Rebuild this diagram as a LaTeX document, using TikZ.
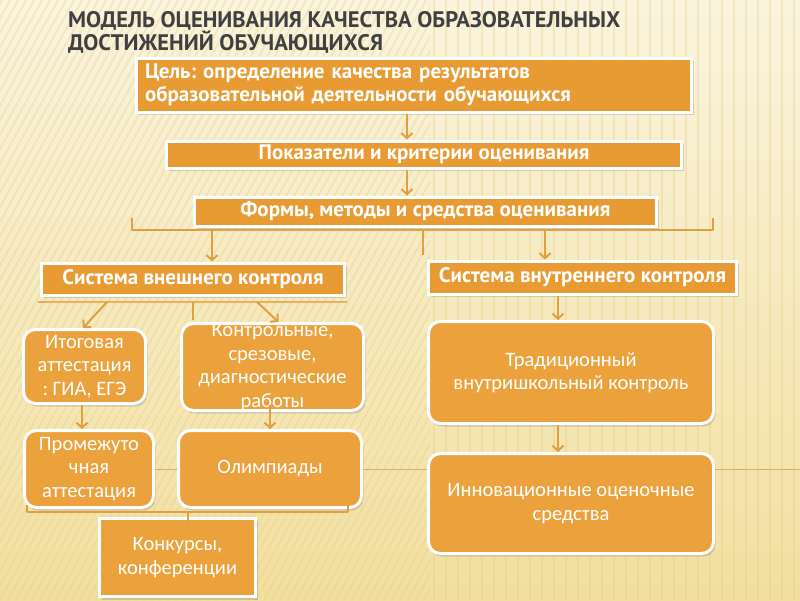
\documentclass[tikz,border=0pt]{standalone}
\usepackage{fontspec}
\setmainfont{Carlito}
\newfontfamily\hfont{PT Sans}
\usetikzlibrary{arrows.meta,shadows,calc}
\pgfdeclarelayer{bg}
\pgfdeclarelayer{back}
\pgfsetlayers{bg,back,main}
\definecolor{boxor}{HTML}{E89B33}
\definecolor{rndor}{HTML}{EBA23C}
\definecolor{arrc}{HTML}{DFA043}
\definecolor{titlec}{HTML}{404040}
\definecolor{bgtop}{HTML}{FAF4DE}
\definecolor{bgbot}{HTML}{F2DF9F}
\definecolor{stripec}{HTML}{E6CD86}
\frenchspacing
\begin{document}
\begin{tikzpicture}[x=1pt,y=-1pt,
  rectbox/.style={draw=white, line width=3pt, fill=boxor, text=white, inner sep=0pt,
    drop shadow={shadow xshift=2pt,shadow yshift=-3pt,opacity=0.3},
    font=\hfont\bfseries\fontsize{21}{23}\selectfont},
  rndbox/.style={rectbox, fill=rndor, rounded corners=12pt, align=center,
    font=\fontsize{20.5}{23.5}\selectfont},
  sqbox/.style={rectbox, fill=rndor, align=center, font=\fontsize{20.5}{23.5}\selectfont},
  titletext/.style={anchor=base west, inner sep=0pt, text=titlec, font=\hfont\bfseries\fontsize{22.5}{24}\selectfont},
  arr/.style={draw=arrc, line width=2pt, -{Straight Barb[length=5pt,width=11pt]}},
  conn/.style={draw=arrc, line width=2pt},
  faint/.style={draw=arrc, line width=1pt, opacity=0.8},
  stripe/.style={draw=stripec, line width=1.6pt, opacity=0.35},
]
\useasboundingbox (0,0) rectangle (800,600);
\begin{pgfonlayer}{bg}
  \fill[top color=bgtop, bottom color=bgbot] (0,0) rectangle (800,600);
  \begin{scope}
    \clip (0,0) rectangle (430,600);
    \foreach \i in {-360,-352,...,440} \draw[stripe] (\i,600) -- (\i+330,0);
  \end{scope}
  \begin{scope}
    \clip (430,0) rectangle (800,600);
    \foreach \i in {434,446,...,800} \draw[stripe] (\i,0) -- (\i,600);
  \end{scope}
\end{pgfonlayer}

% title
\node[titletext] (title1) at (68,27) {МОДЕЛЬ ОЦЕНИВАНИЯ КАЧЕСТВА ОБРАЗОВАТЕЛЬНЫХ};
\node[titletext] (title2) at (68,50) {ДОСТИЖЕНИЙ ОБУЧАЮЩИХСЯ};

% top boxes
\node[rectbox, minimum width=555pt, minimum height=54pt, text width=538pt, align=left] (goal) at (414,85)
  {Цель: определение качества результатов\\образовательной деятельности обучающихся};
\node[rectbox, minimum width=515pt, minimum height=27pt] (crit) at (424,154.5) {Показатели и критерии оценивания};
\node[rectbox, minimum width=462pt, minimum height=29pt] (forms) at (425.5,211.5) {Формы, методы и средства оценивания};
\node[rectbox, minimum width=303pt, minimum height=32pt] (ext) at (193,279) {Система внешнего контроля};
\node[rectbox, minimum width=308pt, minimum height=33pt] (int) at (582.5,277.5) {Система внутреннего контроля};

% external branch
\node[rndbox, minimum width=122pt, minimum height=74pt] (final) at (84.5,366.5) {Итоговая\\аттестация\\: ГИА, ЕГЭ};
\node[rndbox, minimum width=182pt, minimum height=87pt] (tests) at (272.5,367) {Контрольные,\\срезовые,\\диагностические\\работы};
\node[rndbox, minimum width=129pt, minimum height=77pt] (interim) at (89,469) {Промежуто\\чная\\аттестация};
\node[rndbox, minimum width=183pt, minimum height=77pt] (olymp) at (270,469) {Олимпиады};
\node[sqbox, minimum width=156pt, minimum height=78pt] (contest) at (177.5,557.5) {Конкурсы,\\конференции};

% internal branch
\node[rndbox, minimum width=285pt, minimum height=102pt] (trad) at (571,372.5) {Традиционный\\внутришкольный контроль};
\node[rndbox, minimum width=285pt, minimum height=100pt] (innov) at (571,503.5) {Инновационные оценочные\\средства};

% faint horizontal line behind boxes
\coordinate (redge) at (800,469);
\begin{pgfonlayer}{back}
  \draw[faint] (interim.east) -- (redge);
\end{pgfonlayer}

% arrows top chain
\draw[arr] ([xshift=-7pt]goal.south) -- ([xshift=-17pt]crit.north);
\draw[arr] ([xshift=-17pt]crit.south) -- ([xshift=-18.5pt]forms.north);

% bracket under forms
\coordinate (bltop) at (132,218);
\coordinate (bl) at (132,230);
\coordinate (br) at (713,230);
\coordinate (brtop) at (713,218);
\coordinate (b1) at (212,230);
\coordinate (b2) at (423,230);
\coordinate (b2end) at (423,255);
\coordinate (b3) at (545,230);
\draw[conn, line join=round] (bltop) -- (bl) -- (br) -- (brtop);
\draw[arr] (b1) -- ([xshift=19pt]ext.north);
\draw[conn] (b2) -- (b2end);
\draw[arr] (b3) -- ([xshift=-37.5pt]int.north);

% bracket under external system
\coordinate (el) at (38,302);
\coordinate (er) at (347,302);
\coordinate (e1) at (107,302);
\coordinate (e2) at (257,302);
\coordinate (e3) at (193,302);
\coordinate (e3end) at (193,320);
\draw[conn, opacity=0.75] (el) -- (er);
\draw[arr] (e1) -- ([xshift=-1.5pt]final.north);
\draw[arr] (e2) -- ([xshift=6pt]tests.north);
\draw[conn] (e3) -- (e3end);

\draw[arr] ([xshift=-2.5pt]final.south) -- ([xshift=-7pt]interim.north);
\draw[arr] ([xshift=-2.5pt,yshift=7pt]tests.south) -- (olymp.north);

% bracket under second row
\coordinate (ql) at (27,505);
\coordinate (qlb) at (27,512);
\coordinate (qrb) at (348,512);
\coordinate (qr) at (348,505);
\coordinate (q1) at (188,512);
\draw[conn, line join=round] (ql) -- (qlb) -- (qrb) -- (qr);
\draw[conn] (q1) -- ([xshift=10.5pt,yshift=-10pt]contest.north);

% internal arrows
\draw[arr] ([xshift=-24.5pt]int.south) -- ([xshift=-13pt]trad.north);
\draw[arr] ([xshift=-13pt]trad.south) -- ([xshift=-13pt]innov.north);
\end{tikzpicture}
\end{document}
